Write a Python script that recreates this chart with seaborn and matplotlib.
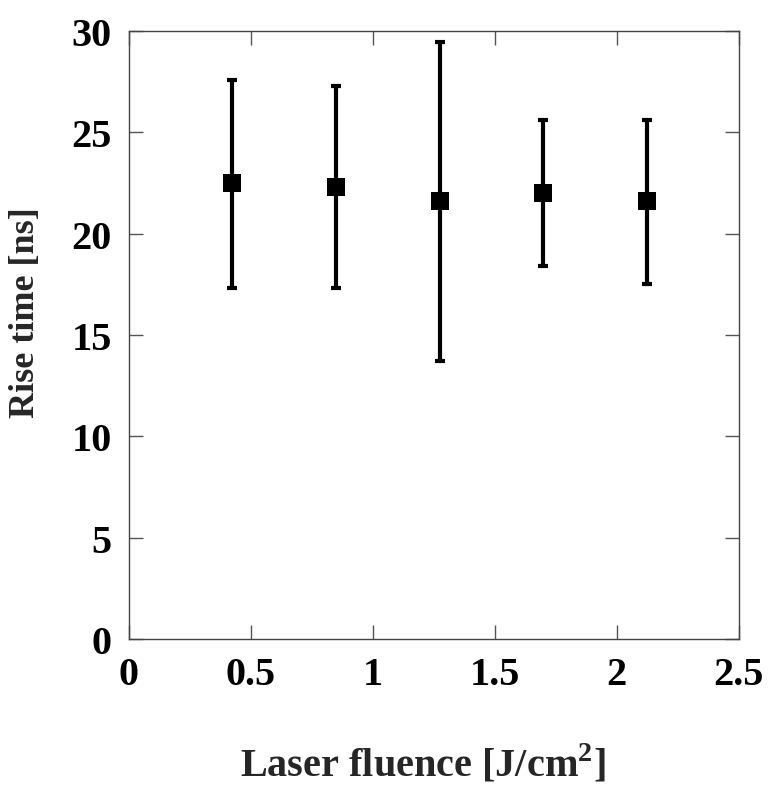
import numpy as np
import pandas as pd
import seaborn as sns
import matplotlib.pyplot as plt

# values
fluence = [0.425, 0.85, 1.275, 1.7, 2.125]
rise_time = [22.5, 22.3, 21.6, 22.0, 21.6]
err_upper = [27.6, 27.3, 29.45, 25.6, 25.6]
err_lower = [17.3, 17.3, 13.7, 18.4, 17.5]

df = pd.DataFrame({"fluence": fluence, "rise": rise_time})
yerr = [np.array(rise_time) - np.array(err_lower),
        np.array(err_upper) - np.array(rise_time)]

sns.set_style("ticks")
plt.rcParams['font.family'] = ['Liberation Serif', 'DejaVu Serif']
plt.rcParams['font.weight'] = 'bold'
plt.rcParams['text.color'] = 'black'
plt.rcParams['xtick.labelcolor'] = 'black'
plt.rcParams['ytick.labelcolor'] = 'black'
plt.rcParams['mathtext.fontset'] = 'custom'
plt.rcParams['mathtext.bf'] = 'Liberation Serif:bold'
plt.rcParams['mathtext.rm'] = 'Liberation Serif:bold'

fig = plt.figure(figsize=(7.69, 8.03), dpi=100)
ax = fig.add_axes([128.6 / 769, 1 - 640 / 803, 610 / 769, 608 / 803])

ax.errorbar(fluence, rise_time, yerr=yerr, fmt='none', ecolor='black',
            elinewidth=3, capsize=3.8, capthick=3, zorder=2)
sns.scatterplot(data=df, x="fluence", y="rise", marker='s', s=185,
                color='black', edgecolor='black', linewidth=0, ax=ax, zorder=3)

ax.set_xlim(0, 2.5)
ax.set_ylim(0, 30)
ax.set_xticks([0, 0.5, 1, 1.5, 2, 2.5])
ax.set_xticklabels(['0', '0.5', '1', '1.5', '2', '2.5'])
ax.set_yticks([0, 5, 10, 15, 20, 25, 30])
ax.tick_params(direction='in', length=10, width=1, top=True, right=True,
               labelsize=29, color='#555555')
ax.tick_params(axis='x', pad=12)
ax.tick_params(axis='y', pad=12)
for lab in ax.get_xticklabels() + ax.get_yticklabels():
    lab.set_fontweight('bold')
for sp in ax.spines.values():
    sp.set_linewidth(1)
    sp.set_color('#444444')

ax.set_xlabel('Laser fluence [J/cm$^\\mathbf{2}$]', fontsize=29, fontweight='bold')
ax.set_ylabel('Rise time [ns]', fontsize=26, fontweight='bold')
ax.xaxis.set_label_coords(0.483, -0.17)
ax.yaxis.set_label_coords(-0.142, 0.539)

fig.savefig('out.png', dpi=100)
